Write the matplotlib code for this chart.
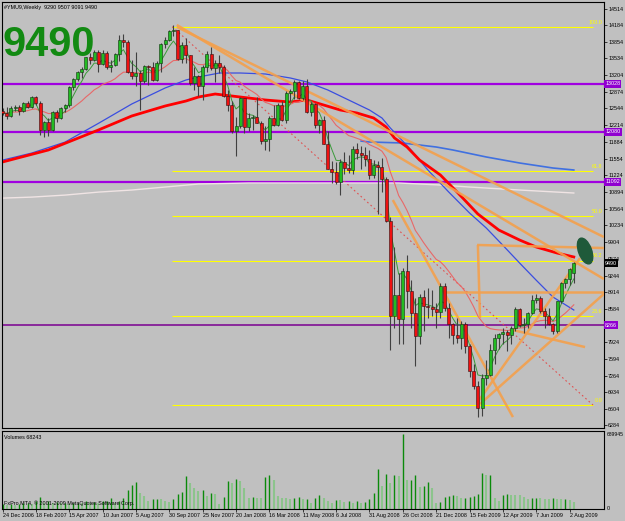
import numpy as np
import pandas as pd
import matplotlib
matplotlib.use("Agg")
import matplotlib.pyplot as plt
from matplotlib.patches import Ellipse
from matplotlib.transforms import ScaledTranslation, blended_transform_factory

plt.rcParams['font.family'] = ['Liberation Sans', 'DejaVu Sans']

# weekly bars, 24 Dec 2006 .. 9 Aug 2009
opens = [12500, 12463, 12398, 12556, 12565, 12487, 12654, 12581, 12768, 12647, 12114, 12276, 12110, 12481,
         12354, 12560, 12612, 12961, 13120, 13264, 13326, 13556, 13507, 13668, 13424, 13639, 13360, 13408,
         13611, 13907, 13851, 13265, 13182, 13239, 13079, 13379, 13358, 13113, 13442, 13821, 13896, 14066,
         14093, 13522, 13807, 13595, 13043, 13177, 12980, 13372, 13626, 13340, 13450, 13366, 12800, 12606,
         12099, 12207, 12743, 12182, 12348, 12381, 12266, 11894, 11951, 12361, 12216, 12609, 12325, 12849,
         12891, 13058, 12745, 12986, 12479, 12638, 12210, 12307, 11843, 11346, 11289, 11100, 11496, 11370,
         11326, 11734, 11659, 11628, 11543, 11220, 11421, 11388, 11143, 10325, 8451, 8852, 8378, 9325,
         8943, 8497, 8046, 8829, 8635, 8629, 8579, 8515, 9034, 8599, 8281, 8077, 8001, 8280, 7850, 7366,
         7063, 6627, 7224, 7279, 7776, 8018, 8083, 8131, 8076, 8212, 8575, 8268, 8277, 8500, 8764, 8799,
         8539, 8438, 8280, 8146, 8743, 9093, 9171, 9290]
highs = [12560, 12580, 12590, 12620, 12610, 12680, 12700, 12790, 12800, 12700, 12300, 12350, 12500, 12520,
         12580, 12640, 12980, 13140, 13290, 13360, 13570, 13650, 13690, 13700, 13700, 13680, 13510, 13650,
         14000, 14020, 13900, 13500, 13660, 13300, 13400, 13410, 13460, 13480, 13830, 13950, 14100, 14198,
         14100, 13850, 13940, 13600, 13360, 13200, 13400, 13670, 13750, 13500, 13600, 13400, 12900, 12700,
         12380, 12770, 12750, 12460, 12420, 12780, 12300, 12200, 12400, 12620, 12650, 12700, 12880, 12920,
         13100, 13080, 13080, 13130, 12670, 12660, 12340, 12400, 12100, 11500, 11480, 11550, 11690, 11620,
         11810, 11870, 11800, 11790, 11720, 11520, 11500, 11560, 11200, 10400, 9800, 9300, 9400, 9650,
         9150, 8800, 8880, 8950, 9000, 8950, 8700, 9100, 9090, 8700, 8300, 8400, 8350, 8330, 7900,
         7500, 7150, 7300, 7580, 7900, 8080, 8100, 8200, 8170, 8250, 8630, 8600, 8400, 8520, 8850, 8880,
         8830, 8600, 8600, 8300, 8750, 9120, 9200, 9400, 9507]
lows = [12420, 12340, 12380, 12500, 12420, 12470, 12550, 12560, 12620, 12030, 11980, 12000, 12090, 12280,
        12330, 12480, 12580, 12900, 13080, 13150, 13300, 13430, 13480, 13270, 13410, 13330, 13260, 13380,
        13480, 13750, 13250, 13130, 12990, 12520, 13050, 13000, 13080, 13080, 13270, 13740, 13880, 13980,
        13500, 13440, 13450, 13000, 12900, 12800, 12720, 13260, 13300, 13070, 13250, 12780, 12500, 12050,
        11600, 12150, 12050, 12100, 12120, 12250, 11840, 11730, 11700, 12200, 12200, 12300, 12260, 12700,
        12740, 12730, 12710, 12460, 12400, 12150, 12050, 11840, 11340, 11080, 11050, 10830, 11250, 11270,
        11250, 11540, 11350, 11400, 11150, 11180, 10460, 10900, 10300, 7773, 8200, 7882, 7900, 8600,
        8200, 7449, 7900, 8150, 8400, 8450, 8200, 8400, 8550, 8000, 7900, 7920, 7800, 7720, 7240,
        7000, 6440, 6470, 7080, 7250, 7490, 7800, 7900, 7760, 7900, 8150, 8230, 8100, 8210, 8480, 8700,
        8500, 8200, 8270, 8090, 8100, 8700, 8990, 9050, 9091]
closes = [12463, 12398, 12556, 12565, 12487, 12654, 12581, 12768, 12647, 12114, 12276, 12110, 12481, 12354,
          12560, 12612, 12961, 13120, 13264, 13326, 13556, 13507, 13668, 13424, 13639, 13360, 13408, 13611,
          13907, 13851, 13265, 13182, 13239, 13079, 13379, 13358, 13113, 13442, 13821, 13896, 14066, 14093,
          13522, 13807, 13595, 13043, 13177, 12980, 13372, 13626, 13340, 13450, 13366, 12800, 12606, 12099,
          12207, 12743, 12182, 12348, 12381, 12266, 11894, 11951, 12361, 12216, 12609, 12325, 12849, 12891,
          13058, 12745, 12986, 12479, 12638, 12210, 12307, 11843, 11346, 11289, 11100, 11496, 11370, 11326,
          11734, 11659, 11628, 11543, 11220, 11421, 11388, 11143, 10325, 8451, 8852, 8378, 9325, 8943,
          8497, 8046, 8829, 8635, 8629, 8579, 8515, 9034, 8599, 8281, 8077, 8001, 8280, 7850, 7366,
          7063, 6627, 7224, 7279, 7776, 8018, 8083, 8131, 8076, 8212, 8575, 8268, 8277, 8500, 8764,
          8799, 8539, 8438, 8280, 8146, 8743, 9093, 9171, 9370, 9490]
volumes = [45, 36, 45, 36, 45, 54, 59, 45, 74, 110, 59, 71, 59, 62, 54, 54, 45, 54, 59, 54, 74, 59, 65, 54,
           74, 74, 104, 59, 74, 104, 172, 223, 250, 149, 119, 74, 89, 95, 89, 74, 65, 95, 134, 155, 303,
           238, 193, 164, 178, 119, 149, 134, 45, 113, 253, 238, 274, 253, 193, 104, 110, 104, 98, 297,
           312, 268, 119, 104, 98, 95, 104, 110, 89, 89, 54, 104, 125, 104, 74, 54, 86, 80, 68, 74, 59,
           74, 59, 65, 89, 149, 372, 208, 321, 238, 312, 303, 689.945, 268, 268, 312, 202, 208, 244, 193,
           59, 65, 113, 119, 125, 119, 98, 104, 113, 119, 134, 333, 312, 312, 104, 74, 125, 134, 131, 128,
           125, 113, 95, 104, 104, 101, 95, 89, 98, 95, 89, 89, 86, 68.243]
date_labels = ['24 Dec 2006', '18 Feb 2007', '15 Apr 2007', '10 Jun 2007', '5 Aug 2007', '30 Sep 2007',
               '25 Nov 2007', '20 Jan 2008', '16 Mar 2008', '11 May 2008', '6 Jul 2008', '31 Aug 2008',
               '26 Oct 2008', '21 Dec 2008', '15 Feb 2009', '12 Apr 2009', '7 Jun 2009', '2 Aug 2009']

# moving averages (bar index, price)
red_ma_idx = [0, 11, 23, 31, 39, 44, 47, 51, 57, 63, 69, 73, 77, 81, 85, 89, 92, 94, 97, 100, 105, 109,
              114, 119, 124, 128, 133, 137]
red_ma = [11487, 11724, 12119, 12396, 12593, 12692, 12771, 12830, 12771, 12712, 12672, 12712, 12613, 12514,
          12455, 12356, 12178, 11961, 11783, 11526, 11230, 10894, 10459, 10143, 9945, 9807, 9688, 9610]
blue_ma_idx = [0, 7, 15, 23, 31, 39, 44, 47, 52, 57, 63, 69, 73, 78, 83, 88, 91, 93, 98, 102, 107, 112,
               116, 120, 124, 128, 132, 137]
blue_ma = [11524, 11663, 11880, 12250, 12633, 12949, 13107, 13166, 13245, 13245, 13226, 13147, 13068, 12910,
           12712, 12514, 12356, 12159, 11723, 11329, 10894, 10479, 10183, 9840, 9491, 9150, 8819, 8562]
slow_ma_idx = [86, 88, 96, 104, 108, 116, 124, 132, 137]
slow_ma = [11900, 11882, 11862, 11783, 11724, 11586, 11467, 11368, 11329]
white_ma_idx = [0, 7, 15, 23, 31, 39, 47, 59, 71, 83, 95, 105, 112, 124, 137]
white_ma = [10773, 10793, 10833, 10892, 10933, 10992, 11052, 11072, 11072, 11072, 11072, 11032, 10992,
            10933, 10874]

# drawn objects
purple_levels = [13028, 12080, 11092]
purple_low = 8266
fib_ratios = [100.0, 61.8, 50.0, 38.2, 23.6, 0.0]
fib_high, fib_low = 14160, 6685
fib_x = (40.7, 141.6)
trend_lines = [  # (idx1, price1, idx2, price2)
    (41.8, 14154, 144.2, 10005),
    (41.8, 14194, 144.2, 9175),
    (93.6, 10735, 122.4, 6447),
    (113.8, 9847, 144.2, 9787),
    (114.0, 9847, 114.5, 8405),
    (105.6, 8918, 144.2, 8918),
    (114.5, 6705, 144.2, 8879),
    (113.8, 6725, 138.5, 9590),
    (122.4, 8166, 139.7, 7830),
]
price_ticks = [14514, 14184, 13854, 13534, 13204, 12874, 12544, 12214, 11884, 11554, 11224, 10894, 10564,
               10234, 9904, 9574, 9244, 8914, 8584, 7924, 7594, 7264, 6934, 6604, 6284]

BG = '#c0c0c0'
FS = 3.9
n = len(closes)
x = np.arange(n)
o, h, l, c = map(np.array, (opens, highs, lows, closes))
vol = np.array(volumes) * 1000

fig = plt.figure(figsize=(6.25, 5.21), dpi=100, facecolor=BG)
ax = fig.add_axes([2 / 625, 93 / 521, 602 / 625, 426 / 521], facecolor=BG)
axv = fig.add_axes([2 / 625, 12 / 521, 602 / 625, 78 / 521], facecolor=BG, sharex=ax)

# horizontal levels
for p in purple_levels:
    ax.axhline(p, color='#a000e0', lw=1.6, zorder=1)
ax.axhline(purple_low, color='#7a0090', lw=1.1, zorder=1)

fib_prices = [fib_low + r / 100 * (fib_high - fib_low) for r in fib_ratios]
for r, p in zip(fib_ratios, fib_prices):
    ax.hlines(p, fib_x[0], fib_x[1], color='#ffff00', lw=0.8, zorder=1)
    ax.text(143.9, p + 40, f'{r:.1f}', color='#ffff00', fontsize=FS, va='bottom', ha='right', zorder=6)
ax.plot(fib_x, [fib_high, fib_low], color='#e05050', lw=0.8, ls=(0, (1.5, 2.5)), zorder=2)

# moving averages
s = pd.Series(c, dtype=float)
ax.plot(white_ma_idx, white_ma, color='#f0e4e4', lw=1.0, zorder=2)
ax.plot(slow_ma_idx, slow_ma, color='#4070e0', lw=1.2, zorder=2)
ax.plot(blue_ma_idx, blue_ma, color='#3a4ee0', lw=0.9, zorder=2)
ax.plot(red_ma_idx, red_ma, color='#ff0000', lw=2.0, zorder=2)
ax.plot(x, s.ewm(span=21, adjust=False).mean(), color='#e86868', lw=0.8, zorder=2)
ax.plot(x, s.ewm(span=5, adjust=False).mean(), color='#3a9a3a', lw=0.7, zorder=3)

# trend lines
for x1, p1, x2, p2 in trend_lines:
    ax.plot([x1, x2], [p1, p2], color='#f4a04c', lw=1.8, alpha=0.9, solid_capstyle='butt', zorder=3)

# candles
ax.vlines(x, l, h, color='#404040', lw=0.8, zorder=4)
up = c >= o
ax.bar(x[up], (c - o)[up], bottom=o[up], width=0.72, color='#22bb22', edgecolor='#103010', lw=0.4, zorder=5)
ax.bar(x[~up], (o - c)[~up], bottom=c[~up], width=0.72, color='#ee1111', edgecolor='#301010', lw=0.4, zorder=5)

# marker ellipse
ell = Ellipse((0, 0), 0.13, 0.27, angle=20, color='#1f5a3a',
              transform=fig.dpi_scale_trans + ScaledTranslation(139.7, 9728, ax.transData), zorder=6)
ax.add_patch(ell)

ax.set_xlim(-0.12, 144.24)
ax.set_ylim(6231, 14648)

# right price scale
ax.yaxis.tick_right()
ax.set_yticks(price_ticks)
ax.set_yticklabels([str(t) for t in price_ticks])
ax.tick_params(axis='y', labelsize=FS, length=2, width=0.5, pad=1, colors='#000000')
ax.tick_params(axis='x', bottom=False, labelbottom=False)
tr = blended_transform_factory(ax.transAxes, ax.transData)
for p in purple_levels + [purple_low]:
    ax.text(1.002, p, f'{p:d}', transform=tr, fontsize=FS, color='white', va='center', ha='left',
            bbox=dict(boxstyle='square,pad=0.2', fc='#9000d0', ec='none'), zorder=7, clip_on=False)
ax.text(1.002, c[-1], f'{c[-1]:d}', transform=tr, fontsize=FS, color='white', va='center', ha='left',
        bbox=dict(boxstyle='square,pad=0.2', fc='#000000', ec='none'), zorder=7, clip_on=False)

for sp in ax.spines.values():
    sp.set_linewidth(0.8)
    sp.set_color('#000000')

ax.text(0.004, 0.993, '#YMU9,Weekly  9290 9507 9091 9490', transform=ax.transAxes, fontsize=FS,
        va='top', ha='left', color='#000000')
ax.text(0.001, 0.945, '9490', transform=ax.transAxes, fontsize=30, fontweight='bold', color='#128a12',
        va='top', ha='left')

# volumes
prev = np.r_[vol[0], vol[:-1]]
rising = vol >= prev
axv.vlines(x[rising], 0, vol[rising], colors='#0a8a0a', lw=1.0)
axv.vlines(x[~rising], 0, vol[~rising], colors='#8cc48c', lw=1.5)
axv.set_ylim(0, vol.max() * 1.04)
axv.set_yticks([])
axv.tick_params(axis='y', right=False, left=False)
trv = blended_transform_factory(axv.transAxes, axv.transData)
axv.text(1.004, vol.max(), f'{vol.max():.0f}', transform=trv, fontsize=3.6, va='center', ha='left',
         clip_on=False)
axv.text(1.004, 0, '0', transform=trv, fontsize=FS, va='center', ha='left', clip_on=False)
axv.set_xticks(np.arange(0, n, 8))
axv.set_xticklabels(date_labels, ha='left')
axv.tick_params(axis='x', labelsize=FS, length=2, width=0.5, pad=1)
for sp in axv.spines.values():
    sp.set_linewidth(0.8)
axv.text(0.004, 0.95, f'Volumes {vol[-1]:.0f}', transform=axv.transAxes, fontsize=FS, va='top')
axv.text(0.004, 0.04, 'FxPro MT4, \u00a9 2001-2009 MetaQuotes Software Corp.', transform=axv.transAxes,
         fontsize=FS, va='bottom')

fig.savefig('out.png', dpi=100, facecolor=BG)
